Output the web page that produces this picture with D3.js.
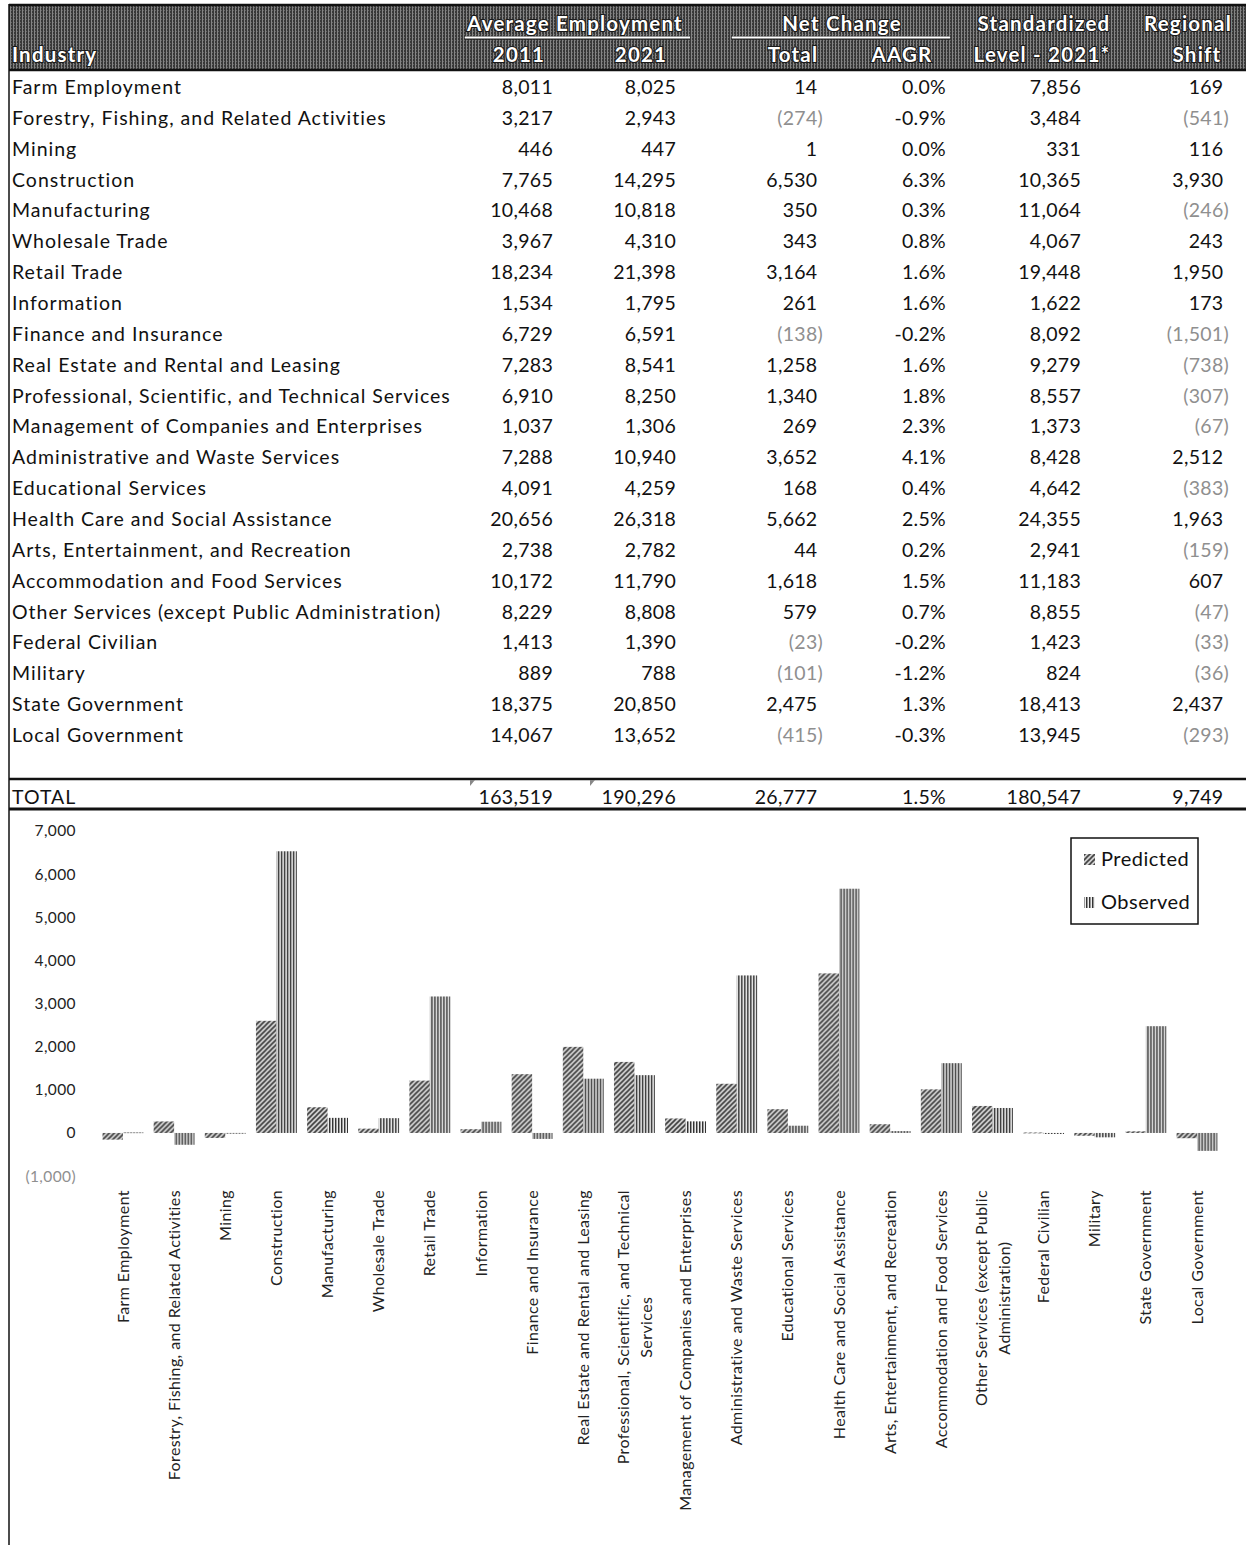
<html>
<head>
<meta charset="utf-8">
<title>Shift-share table and chart</title>
<script src="https://d3js.org/d3.v7.min.js"></script>
<style>
  body { margin: 0; background: white; }
  text { font-family: Lato, "Open Sans", sans-serif; }
</style>
</head>
<body>
<script>
var industries = ["Farm Employment", "Forestry, Fishing, and Related Activities", "Mining", "Construction",
  "Manufacturing", "Wholesale Trade", "Retail Trade", "Information", "Finance and Insurance",
  "Real Estate and Rental and Leasing", "Professional, Scientific, and Technical Services",
  "Management of Companies and Enterprises", "Administrative and Waste Services", "Educational Services",
  "Health Care and Social Assistance", "Arts, Entertainment, and Recreation", "Accommodation and Food Services",
  "Other Services (except Public Administration)", "Federal Civilian", "Military", "State Government",
  "Local Government"];
var emp2011 = [8011, 3217, 446, 7765, 10468, 3967, 18234, 1534, 6729, 7283, 6910, 1037, 7288, 4091, 20656, 2738, 10172, 8229, 1413, 889, 18375, 14067];
var emp2021 = [8025, 2943, 447, 14295, 10818, 4310, 21398, 1795, 6591, 8541, 8250, 1306, 10940, 4259, 26318, 2782, 11790, 8808, 1390, 788, 20850, 13652];
var netTotal = [14, -274, 1, 6530, 350, 343, 3164, 261, -138, 1258, 1340, 269, 3652, 168, 5662, 44, 1618, 579, -23, -101, 2475, -415];
var aagr = [0.0, -0.9, 0.0, 6.3, 0.3, 0.8, 1.6, 1.6, -0.2, 1.6, 1.8, 2.3, 4.1, 0.4, 2.5, 0.2, 1.5, 0.7, -0.2, -1.2, 1.3, -0.3];
var stdLevel = [7856, 3484, 331, 10365, 11064, 4067, 19448, 1622, 8092, 9279, 8557, 1373, 8428, 4642, 24355, 2941, 11183, 8855, 1423, 824, 18413, 13945];
var regionalShift = [169, -541, 116, 3930, -246, 243, 1950, 173, -1501, -738, -307, -67, 2512, -383, 1963, -159, 607, -47, -33, -36, 2437, -293];
var totalRow = ["TOTAL", 163519, 190296, 26777, 1.5, 180547, 9749];

// chart series
var predicted = [-155, 267, -115, 2600, 596, 100, 1214, 88, 1363, 1996, 1647, 336, 1140, 551, 3699, 203, 1011, 626, 10, -65, 38, -122];
var observed = netTotal;
var seriesNames = ["Predicted", "Observed"];
var chartLabels = [["Farm Employment"], ["Forestry, Fishing, and Related Activities"], ["Mining"], ["Construction"],
  ["Manufacturing"], ["Wholesale Trade"], ["Retail Trade"], ["Information"], ["Finance and Insurance"],
  ["Real Estate and Rental and Leasing"], ["Professional, Scientific, and Technical", "Services"],
  ["Management of Companies and Enterprises"], ["Administrative and Waste Services"], ["Educational Services"],
  ["Health Care and Social Assistance"], ["Arts, Entertainment, and Recreation"], ["Accommodation and Food Services"],
  ["Other Services (except Public", "Administration)"], ["Federal Civilian"], ["Military"], ["State Government"],
  ["Local Government"]];
var yTicks = [-1000, 0, 1000, 2000, 3000, 4000, 5000, 6000, 7000];

var w = 1246, h = 1545;
var svg = d3.select("body").append("svg").attr("width", w).attr("height", h);
svg.append("rect").attr("width", w).attr("height", h).attr("fill", "white");

var defs = svg.append("defs");
// dark dithered header fill
var hp = defs.append("pattern").attr("id", "headHatch").attr("patternUnits", "userSpaceOnUse")
  .attr("width", 3).attr("height", 3);
hp.append("rect").attr("width", 3).attr("height", 3).attr("fill", "#383838");
hp.append("rect").attr("x", 1).attr("width", 1).attr("height", 3).attr("fill", "#858585");
hp.append("rect").attr("x", 2).attr("y", 1).attr("width", 1).attr("height", 1).attr("fill", "#666");

// predicted: diagonal hatch
var pp = defs.append("pattern").attr("id", "predHatch").attr("patternUnits", "userSpaceOnUse")
  .attr("width", 5).attr("height", 5);
pp.append("rect").attr("width", 5).attr("height", 5).attr("fill", "#cfcfcf");
pp.append("path").attr("d", "M0,5 L5,0 M-1,1 L1,-1 M4,6 L6,4").attr("stroke", "#444").attr("stroke-width", 1.6);

// observed: vertical stripes
var op = defs.append("pattern").attr("id", "obsHatch").attr("patternUnits", "userSpaceOnUse")
  .attr("width", 3).attr("height", 6);
op.append("rect").attr("width", 3).attr("height", 6).attr("fill", "#eee");
op.append("rect").attr("width", 1).attr("height", 6).attr("fill", "#333");
op.append("rect").attr("x", 1).attr("width", 1).attr("height", 6).attr("fill", "#999");

var fills = { Predicted: "url(#predHatch)", Observed: "url(#obsHatch)" };

// ---------------- table ----------------
var fmt = d3.format(",");

// header band
svg.append("rect").attr("x", 9).attr("y", 5).attr("width", w - 9).attr("height", 65).attr("fill", "url(#headHatch)");
svg.append("line").attr("x1", 9).attr("x2", w).attr("y1", 5).attr("y2", 5).attr("stroke", "#111").attr("stroke-width", 2.5);
svg.append("line").attr("x1", 9).attr("x2", w).attr("y1", 70).attr("y2", 70).attr("stroke", "#111").attr("stroke-width", 2.5);

function headText(x, y, t, anchor) {
  svg.append("text").attr("x", x).attr("y", y).attr("text-anchor", anchor || "middle")
    .attr("font-size", 20.5).attr("font-weight", "bold").attr("letter-spacing", 1.2).attr("fill", "white")
    .attr("stroke", "#1a1a1a").attr("stroke-width", 2.2).attr("paint-order", "stroke")
    .text(t);
}
headText(575, 31, "Average Employment");
headText(842, 31, "Net Change");
headText(1044, 31, "Standardized");
headText(1188, 31, "Regional");
headText(12, 62, "Industry", "start");
headText(519, 62, "2011");
headText(641, 62, "2021");
headText(793, 62, "Total");
headText(902, 62, "AAGR");
headText(1042, 62, "Level - 2021*");
headText(1197, 62, "Shift");
[[465, 690], [732, 950]].forEach(function (s) {
  svg.append("line").attr("x1", s[0]).attr("x2", s[1]).attr("y1", 38).attr("y2", 38)
    .attr("stroke", "#222").attr("stroke-width", 3.5);
  svg.append("line").attr("x1", s[0]).attr("x2", s[1]).attr("y1", 37.5).attr("y2", 37.5)
    .attr("stroke", "white").attr("stroke-width", 1.8);
});

var rowY = d3.scaleLinear().domain([0, industries.length - 1]).range([94, 742]);

// columns: value arrays, right edge, formatter
function acct(v) { return v < 0 ? "(" + fmt(-v) + ")" : fmt(v); }
function pct(v) { return v.toFixed(1) + "%"; }
var columns = [
  { vals: emp2011, x: 553, f: acct, paren: false },
  { vals: emp2021, x: 676, f: acct, paren: false },
  { vals: netTotal, x: 823, f: acct, paren: true },
  { vals: aagr, x: 946, f: pct, paren: false },
  { vals: stdLevel, x: 1081, f: acct, paren: false },
  { vals: regionalShift, x: 1229, f: acct, paren: true }
];

var rows = svg.append("g").attr("font-size", 19.5).attr("fill", "#111");
rows.selectAll("text.lab").data(industries).enter().append("text")
  .attr("class", "lab").attr("x", 12).attr("y", function (d, i) { return rowY(i); })
  .attr("letter-spacing", 1).text(function (d) { return d; });

columns.forEach(function (c) {
  var t = rows.selectAll(null).data(c.vals).enter().append("text")
    .attr("x", c.x).attr("y", function (d, i) { return rowY(i); })
    .attr("text-anchor", "end").attr("letter-spacing", 0.3)
    .attr("fill", function (d) { return (c.paren && d < 0) ? "#8f8f8f" : "#111"; });
  t.append("tspan").text(function (d) { return c.f(d); });
  if (c.paren) {
    t.filter(function (d) { return d >= 0; }).append("tspan").attr("fill-opacity", 0).text(")");
  }
});

// total section
svg.append("line").attr("x1", 9).attr("x2", w).attr("y1", 779).attr("y2", 779).attr("stroke", "#111").attr("stroke-width", 2.5);
svg.append("line").attr("x1", 9).attr("x2", w).attr("y1", 809).attr("y2", 809).attr("stroke", "#111").attr("stroke-width", 3);
rows.append("text").attr("x", 12).attr("y", 804).attr("letter-spacing", 1).text(totalRow[0]);
columns.forEach(function (c, i) {
  var v = totalRow[i + 1];
  var t = rows.append("text").attr("x", c.x).attr("y", 804).attr("text-anchor", "end").attr("letter-spacing", 0.3);
  t.append("tspan").text(c.f(v));
  if (c.paren) t.append("tspan").attr("fill-opacity", 0).text(")");
});
// little cell-marker triangles
[470, 590].forEach(function (x) {
  svg.append("path").attr("d", "M" + x + ",780 l5,0 l-5,6 z").attr("fill", "#888");
});

// left border
svg.append("line").attr("x1", 9).attr("x2", 9).attr("y1", 4).attr("y2", h).attr("stroke", "#111").attr("stroke-width", 1.5);

// ---------------- chart ----------------
var x0 = d3.scaleBand().domain(industries).range([97.4, 1222.6]);
var x1 = d3.scaleBand().domain(seriesNames).range([x0.bandwidth() * 0.1, x0.bandwidth() * 0.9]);
var y = d3.scaleLinear().domain([-1000, 7000]).range([1176.1, 831]);

var yAxis = d3.axisLeft(y).tickValues(yTicks).tickSize(0).tickPadding(4)
  .tickFormat(function (d) { return acct(d); });
var ya = svg.append("g").attr("transform", "translate(80,0)").call(yAxis);
ya.select(".domain").remove();
ya.selectAll("text").attr("font-family", "Lato, sans-serif").attr("font-size", 15.5).attr("letter-spacing", 0.4)
  .attr("fill", function (d) { return d < 0 ? "#8f8f8f" : "#222"; });

var groups = svg.append("g").selectAll("g").data(industries).enter().append("g")
  .attr("transform", function (d) { return "translate(" + x0(d) + ",0)"; });
groups.selectAll("rect").data(function (d, i) {
  return [{ s: "Predicted", v: predicted[i] }, { s: "Observed", v: observed[i] }];
}).enter().append("rect")
  .attr("x", function (d) { return x1(d.s); })
  .attr("width", x1.bandwidth())
  .attr("y", function (d) { return y(Math.max(0, d.v)); })
  .attr("height", function (d) { return Math.max(0.8, Math.abs(y(d.v) - y(0))); })
  .attr("fill", function (d) { return fills[d.s]; });

// category labels, rotated
var labs = svg.append("g").attr("font-size", 16).attr("letter-spacing", 0.4).attr("fill", "#222");
labs.selectAll("text").data(industries).enter().append("text")
  .attr("transform", function (d) {
    return "translate(" + (x0(d) + x0.bandwidth() / 2) + ",1190) rotate(-90)";
  })
  .attr("text-anchor", "middle")
  .each(function (d, i) {
    var lines = chartLabels[i];
    var el = d3.select(this);
    var tmp = [];
    lines.forEach(function (ln, k) {
      tmp.push(el.append("tspan").attr("x", 0).attr("dy", k === 0 ? (0.35 - (lines.length - 1) * 0.72) + "em" : "1.44em").text(ln));
    });
    // top align the block: longest line ends at y=1190
    var maxLen = d3.max(tmp, function (t) { return t.node().getComputedTextLength(); });
    tmp.forEach(function (t) { t.attr("x", -maxLen / 2); });
  });

// legend
var lg = svg.append("g").attr("transform", "translate(1071,838)");
lg.append("rect").attr("width", 127).attr("height", 86).attr("fill", "white").attr("stroke", "#111").attr("stroke-width", 1.5);
seriesNames.forEach(function (s, i) {
  lg.append("rect").attr("x", 13).attr("y", 16 + i * 43).attr("width", 11).attr("height", 11).attr("fill", fills[s]);
  lg.append("text").attr("x", 30).attr("y", 28 + i * 43).attr("font-size", 20).attr("letter-spacing", 0.5).attr("fill", "#111").text(s);
});
</script>
</body>
</html>
